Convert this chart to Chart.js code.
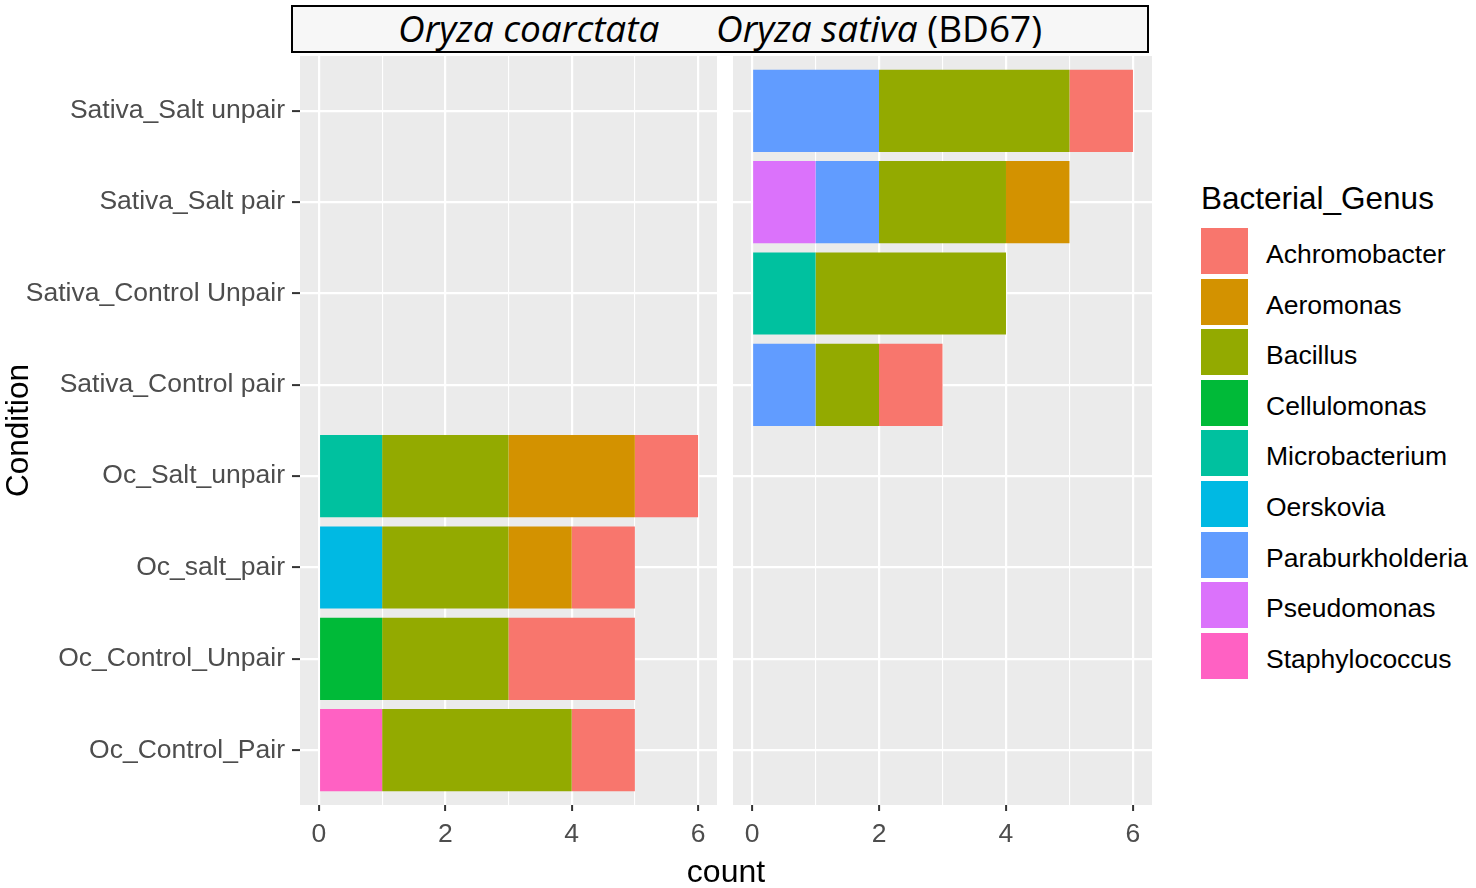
<!DOCTYPE html>
<html>
<head>
<meta charset="utf-8">
<script src="https://cdn.jsdelivr.net/npm/chart.js@4.4.1/dist/chart.umd.min.js"></script>
<style>
  html, body { margin: 0; padding: 0; background: #fff; }
  #page { position: relative; width: 1476px; height: 888px; overflow: hidden; font-family: 'Liberation Sans', Arial, sans-serif; }
  #leftWrap { position: absolute; left: 0; top: 0; width: 730px; height: 888px; }
  #rightWrap { position: absolute; left: 725px; top: 0; width: 440px; height: 888px; }
  #strip { position: absolute; left: 291px; top: 5px; width: 854px; height: 44px; border: 2px solid #000; background: #f7f7f7; }
  .stripText { position: absolute; top: 9px; font-family: 'Open Sans', sans-serif; font-size: 37px; line-height: 37px; color: #000; white-space: nowrap; }
  .stripText i { font-style: italic; }
  #xTitle { position: absolute; left: 576px; width: 300px; top: 853px; text-align: center; font-size: 32px; line-height: 36px; color: #000; }
  #legendTitle { position: absolute; left: 1201px; top: 180px; font-size: 31.5px; line-height: 36px; color: #000; white-space: nowrap; }
  .legBox { position: absolute; left: 1201px; width: 47px; height: 46px; }
  .legLabel { position: absolute; left: 1266px; font-size: 26.5px; line-height: 46px; color: #000; white-space: nowrap; }
</style>
</head>
<body>
<div id="page">
  <div id="strip"></div>
  <div class="stripText" style="left:398px"><i>Oryza coarctata</i></div>
  <div class="stripText" style="left:716px"><i>Oryza sativa</i> (BD67)</div>
  <div id="leftWrap"><canvas id="leftChart"></canvas></div>
  <div id="rightWrap"><canvas id="rightChart"></canvas></div>
  <div id="xTitle">count</div>
  <div id="legendTitle">Bacterial_Genus</div>
  <div id="legend"></div>
</div>
<script>
// Conditions, top to bottom
const conditions = ['Sativa_Salt unpair', 'Sativa_Salt pair', 'Sativa_Control Unpair', 'Sativa_Control pair',
                    'Oc_Salt_unpair', 'Oc_salt_pair', 'Oc_Control_Unpair', 'Oc_Control_Pair'];

const genera = ['Achromobacter', 'Aeromonas', 'Bacillus', 'Cellulomonas', 'Microbacterium',
                'Oerskovia', 'Paraburkholderia', 'Pseudomonas', 'Staphylococcus'];
const genusColors = ['#F8766D', '#D39200', '#93AA00', '#00BA38', '#00C19F',
                     '#00B9E3', '#619CFF', '#DB72FB', '#FF61C3'];

// counts per genus (rows) for each condition (columns)
const coarctataCounts = [
    [0, 0, 0, 0, 1, 1, 2, 1],
    [0, 0, 0, 0, 2, 1, 0, 0],
    [0, 0, 0, 0, 2, 2, 2, 3],
    [0, 0, 0, 0, 0, 0, 1, 0],
    [0, 0, 0, 0, 1, 0, 0, 0],
    [0, 0, 0, 0, 0, 1, 0, 0],
    [0, 0, 0, 0, 0, 0, 0, 0],
    [0, 0, 0, 0, 0, 0, 0, 0],
    [0, 0, 0, 0, 0, 0, 0, 1]
];
const sativaCounts = [
    [1, 0, 0, 1, 0, 0, 0, 0],
    [0, 1, 0, 0, 0, 0, 0, 0],
    [3, 2, 3, 1, 0, 0, 0, 0],
    [0, 0, 0, 0, 0, 0, 0, 0],
    [0, 0, 1, 0, 0, 0, 0, 0],
    [0, 0, 0, 0, 0, 0, 0, 0],
    [2, 1, 0, 1, 0, 0, 0, 0],
    [0, 1, 0, 0, 0, 0, 0, 0],
    [0, 0, 0, 0, 0, 0, 0, 0]
];

const countTicks = [0, 1, 2, 3, 4, 5, 6];
const fontFamily = "'Liberation Sans', Arial, sans-serif";

// ggplot stacks the first level on the outside, so push datasets in reverse
function buildDatasets(counts) {
    const sets = [];
    for (let g = genera.length - 1; g >= 0; g--) {
        sets.push({
            label: genera[g],
            data: counts[g].map((v, i) => ({ x: v, y: i })),
            backgroundColor: genusColors[g],
            borderWidth: 0,
            barPercentage: 0.9,
            categoryPercentage: 1
        });
    }
    return sets;
}

// grey panel background
const panelBg = {
    id: 'panelBg',
    beforeDraw(chart) {
        const { ctx, chartArea: a } = chart;
        ctx.save();
        ctx.fillStyle = '#ebebeb';
        ctx.fillRect(a.left, a.top, a.right - a.left, a.bottom - a.top);
        ctx.restore();
    }
};

function makeOptions(showY) {
    return {
        indexAxis: 'y',
        responsive: true,
        maintainAspectRatio: false,
        animation: false,
        layout: { padding: { top: 56, right: 13, bottom: 33, left: 0 } },
        plugins: { legend: { display: false }, tooltip: { enabled: false } },
        scales: {
            x: {
                type: 'linear',
                stacked: true,
                min: -0.3,
                max: 6.3,
                afterBuildTicks: s => { s.ticks = countTicks.map(v => ({ value: v })); },
                afterFit: s => { s.height = 50; },
                border: { display: false },
                grid: {
                    color: '#ffffff',
                    lineWidth: c => (c.tick && c.tick.value % 2) ? 1.1 : 2.2,
                    tickLength: 6,
                    tickWidth: 2,
                    tickColor: c => (c.tick && c.tick.value % 2) ? 'rgba(0,0,0,0)' : '#333333'
                },
                ticks: {
                    autoSkip: false,
                    maxRotation: 0,
                    padding: 8,
                    color: '#4d4d4d',
                    font: { size: 26.5, family: fontFamily },
                    callback: v => (v % 2 ? '' : v)
                }
            },
            y: {
                type: 'linear',
                stacked: true,
                reverse: true,
                offset: false,
                min: -0.6,
                max: 7.6,
                afterBuildTicks: s => { s.ticks = conditions.map((c, i) => ({ value: i })); },
                afterFit: s => { s.width = showY ? 300 : 8; },
                border: { display: false },
                grid: {
                    offset: false,
                    color: '#ffffff',
                    lineWidth: 2.2,
                    drawTicks: showY,
                    tickLength: 8,
                    tickWidth: 2,
                    tickColor: '#333333'
                },
                ticks: {
                    display: showY,
                    autoSkip: false,
                    padding: 7,
                    color: '#4d4d4d',
                    font: { size: 26.5, family: fontFamily },
                    callback: v => conditions[v]
                },
                title: {
                    display: showY,
                    text: 'Condition',
                    color: '#000000',
                    padding: 0,
                    font: { size: 31.5, family: fontFamily }
                }
            }
        }
    };
}

new Chart(document.getElementById('leftChart'), {
    type: 'bar',
    data: { datasets: buildDatasets(coarctataCounts) },
    options: makeOptions(true),
    plugins: [panelBg]
});

new Chart(document.getElementById('rightChart'), {
    type: 'bar',
    data: { datasets: buildDatasets(sativaCounts) },
    options: makeOptions(false),
    plugins: [panelBg]
});

// legend
const legend = document.getElementById('legend');
genera.forEach((g, i) => {
    const top = 228 + i * 50.6;
    const box = document.createElement('div');
    box.className = 'legBox';
    box.style.top = top + 'px';
    box.style.background = genusColors[i];
    legend.appendChild(box);
    const lab = document.createElement('div');
    lab.className = 'legLabel';
    lab.style.top = (top + 3) + 'px';
    lab.textContent = g;
    legend.appendChild(lab);
});
</script>
</body>
</html>
